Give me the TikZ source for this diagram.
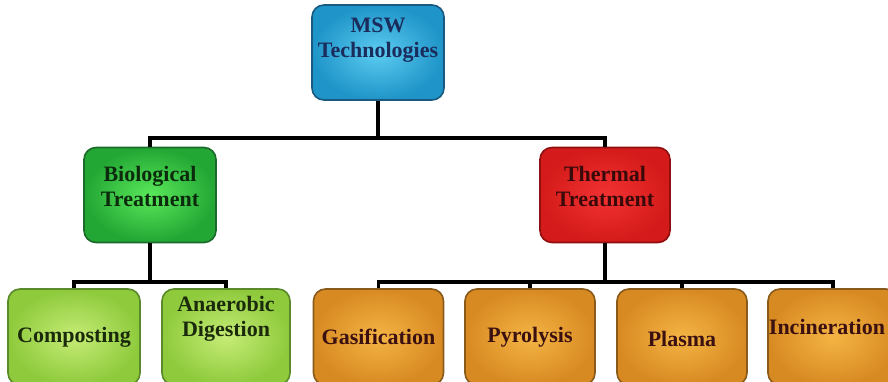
\documentclass[tikz,border=0pt]{standalone}
\usepackage{fontspec}
\setmainfont{Liberation Serif}
\definecolor{MswLight}{HTML}{5CCCF0}
\definecolor{MswBlue}{HTML}{1E94C8}
\definecolor{MswEdge}{HTML}{1A5A80}
\definecolor{MswText}{HTML}{1A2C5C}
\definecolor{BioLight}{HTML}{5AE85A}
\definecolor{BioGreen}{HTML}{22A634}
\definecolor{BioEdge}{HTML}{1A6A2A}
\definecolor{BioText}{HTML}{0C2A0C}
\definecolor{HeatLight}{HTML}{F23232}
\definecolor{HeatRed}{HTML}{D41A1A}
\definecolor{HeatEdge}{HTML}{8E1010}
\definecolor{HeatText}{HTML}{3A0A0A}
\definecolor{LeafLight}{HTML}{C6EC76}
\definecolor{LeafGreen}{HTML}{8ECA3C}
\definecolor{LeafEdge}{HTML}{5A8A2A}
\definecolor{LeafText}{HTML}{1A2A0A}
\definecolor{EmberLight}{HTML}{F4B444}
\definecolor{EmberOrange}{HTML}{D88A22}
\definecolor{EmberEdge}{HTML}{8A5A1A}
\definecolor{EmberText}{HTML}{3A1010}

\begin{document}
\begin{tikzpicture}[x=1pt, y=-1pt,
    box/.style={rounded corners=12pt, line width=1.6pt, minimum width=130pt, minimum height=95pt},
    txt/.style={font=\fontsize{22}{25}\selectfont\bfseries, align=center},
    mswbox/.style={box, draw=MswEdge, inner color=MswLight, outer color=MswBlue},
    biobox/.style={box, draw=BioEdge, inner color=BioLight, outer color=BioGreen},
    heatbox/.style={box, draw=HeatEdge, inner color=HeatLight, outer color=HeatRed},
    leafbox/.style={box, minimum height=96pt, draw=LeafEdge, inner color=LeafLight, outer color=LeafGreen},
    emberbox/.style={box, minimum height=96pt, draw=EmberEdge, inner color=EmberLight, outer color=EmberOrange},
    conn/.style={line width=3.2pt, black}
]
    \useasboundingbox (0,0) rectangle (888,382);
    \fill[white] (0,0) rectangle (888,382);
    \clip (0,0) rectangle (888,382);

    % top and middle tier
    \node[mswbox, minimum width=132pt, label={[txt, text=MswText, yshift=12pt]center:{MSW\\Technologies}}] (msw) at (378,52.5) {};
    \node[biobox, minimum width=132pt, label={[txt, text=BioText, yshift=9pt]center:{Biological\\Treatment}}] (bio) at (150,195) {};
    \node[heatbox, label={[txt, text=HeatText, yshift=9pt]center:{Thermal\\Treatment}}] (therm) at (605,195) {};

    % bottom tier
    \node[leafbox, minimum width=132pt, label={[txt, text=LeafText]center:{Composting}}] (comp) at (74,337) {};
    \node[leafbox, minimum width=128pt, label={[txt, text=LeafText, yshift=18pt]center:{Anaerobic\\Digestion}}] (anaer) at (226,337) {};
    \node[emberbox, label={[txt, text=EmberText]center:{Gasification}}] (gas) at (378.5,337) {};
    \node[emberbox, label={[txt, text=EmberText]center:{Pyrolysis}}] (pyro) at (530,337) {};
    \node[emberbox, label={[txt, text=EmberText, yshift=-2pt]center:{Plasma}}] (plasma) at (682,337) {};
    \node[emberbox, label={[txt, text=EmberText, yshift=10pt, xshift=-6pt]center:{Incineration}}] (incin) at (833,337) {};

    % connectors
    \coordinate (msw bus) at (378,138);
    \coordinate (bio bus) at (150,282);
    \coordinate (therm bus) at (605,282);

    \draw[conn] (msw.south) -- (msw bus);
    \draw[conn] (bio.north) |- (msw bus) -| (therm.north);
    \draw[conn] (bio.south) -- (bio bus);
    \draw[conn] (comp.north) |- (bio bus) -| (anaer.north);
    \draw[conn] (therm.south) -- (therm bus);
    \draw[conn] (gas.north) |- (therm bus) -| (incin.north);
    \draw[conn] (pyro.north) -- (pyro.north |- therm bus);
    \draw[conn] (plasma.north) -- (plasma.north |- therm bus);
\end{tikzpicture}
\end{document}
